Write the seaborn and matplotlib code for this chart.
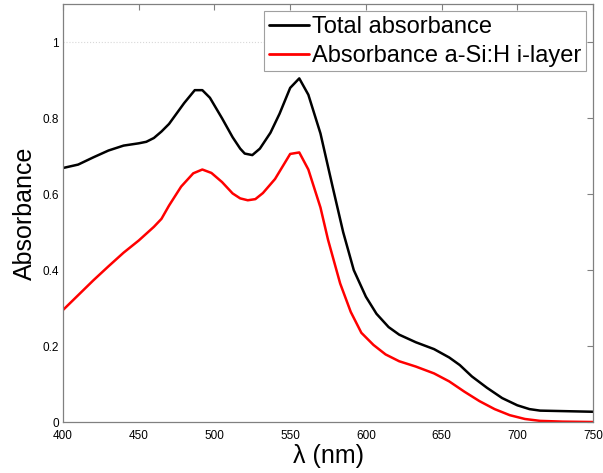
import numpy as np
import pandas as pd
import matplotlib
matplotlib.use("Agg")
import matplotlib.pyplot as plt
import seaborn as sns

# Total absorbance (black)
wl_total = [400, 410, 420, 430, 440, 450, 455, 460, 465, 470, 480, 487, 492, 497,
            505, 512, 517, 520, 525, 530, 537, 543, 550, 556, 562, 570, 578, 585,
            592, 600, 607, 615, 622, 633, 645, 655, 662, 670, 680, 690, 700, 708,
            715, 750]
abs_total = [0.669, 0.678, 0.697, 0.715, 0.728, 0.734, 0.738, 0.748, 0.765, 0.785,
             0.840, 0.874, 0.874, 0.854, 0.800, 0.750, 0.720, 0.707, 0.703, 0.720,
             0.762, 0.812, 0.880, 0.905, 0.862, 0.760, 0.620, 0.500, 0.400, 0.330,
             0.285, 0.250, 0.230, 0.210, 0.192, 0.170, 0.150, 0.120, 0.090, 0.063,
             0.044, 0.034, 0.030, 0.027]

# Absorbance in a-Si:H i-layer (red)
wl_ilayer = [400, 410, 420, 430, 440, 450, 460, 465, 470, 478, 486, 492, 498, 505,
             512, 517, 522, 527, 532, 540, 550, 556, 562, 570, 575, 583, 590, 597,
             605, 613, 622, 633, 645, 655, 665, 675, 685, 695, 705, 715, 730, 750]
abs_ilayer = [0.295, 0.334, 0.373, 0.410, 0.446, 0.478, 0.514, 0.535, 0.570, 0.620,
              0.655, 0.665, 0.656, 0.632, 0.602, 0.589, 0.584, 0.587, 0.603, 0.640,
              0.706, 0.710, 0.665, 0.565, 0.480, 0.365, 0.290, 0.235, 0.203, 0.178,
              0.160, 0.146, 0.128, 0.107, 0.080, 0.055, 0.034, 0.018, 0.008, 0.003,
              0.001, 0.000]

labels = ["Total absorbance", "Absorbance a-Si:H i-layer"]
colors = ["#000000", "#ff0000"]

df = pd.concat([
    pd.DataFrame({"wl": wl_total, "A": abs_total, "series": labels[0]}),
    pd.DataFrame({"wl": wl_ilayer, "A": abs_ilayer, "series": labels[1]}),
])

sns.set_style("white")
plt.rcParams["font.family"] = ["Liberation Sans", "DejaVu Sans"]
plt.rcParams["text.color"] = "black"
plt.rcParams["axes.labelcolor"] = "black"

fig = plt.figure(figsize=(6.03, 4.73), dpi=100)
ax = fig.add_axes([0.1045, 0.1078, 0.879, 0.883])

ax.axhline(1.0, color="#d8d8d8", ls=":", lw=0.8, zorder=0)

sns.lineplot(data=df, x="wl", y="A", hue="series", hue_order=labels,
             palette=colors, linewidth=1.8, sort=False, estimator=None, ax=ax)

ax.set_xlim(400, 750)
ax.set_ylim(0, 1.1)
ax.set_xticks(np.arange(400, 751, 50))
ax.set_yticks([0, 0.2, 0.4, 0.6, 0.8, 1.0])
ax.set_yticklabels(["0", "0.2", "0.4", "0.6", "0.8", "1"])

gray = "#808080"
for s in ax.spines.values():
    s.set_visible(True)
    s.set_color(gray)
    s.set_linewidth(0.9)
ax.tick_params(direction="in", length=4, width=0.8, color=gray,
               top=True, right=True, labelsize=8.5, labelcolor="black")
ax.tick_params(axis="x", pad=6)
ax.tick_params(axis="y", pad=3)

ax.set_xlabel("λ (nm)", fontsize=18, labelpad=1, color="black")
ax.set_ylabel("Absorbance", fontsize=18, labelpad=4, color="black")

leg = ax.legend(loc="upper right", fontsize=17, frameon=True, fancybox=False,
                edgecolor="#a0a0a0", framealpha=1, borderpad=0.2,
                handlelength=1.7, handletextpad=0.12, labelspacing=0.28,
                borderaxespad=0.3)
leg.get_frame().set_linewidth(0.8)
for line in leg.get_lines():
    line.set_linewidth(2.0)
for t in leg.get_texts():
    t.set_color("black")

fig.savefig("out.png", dpi=100)
